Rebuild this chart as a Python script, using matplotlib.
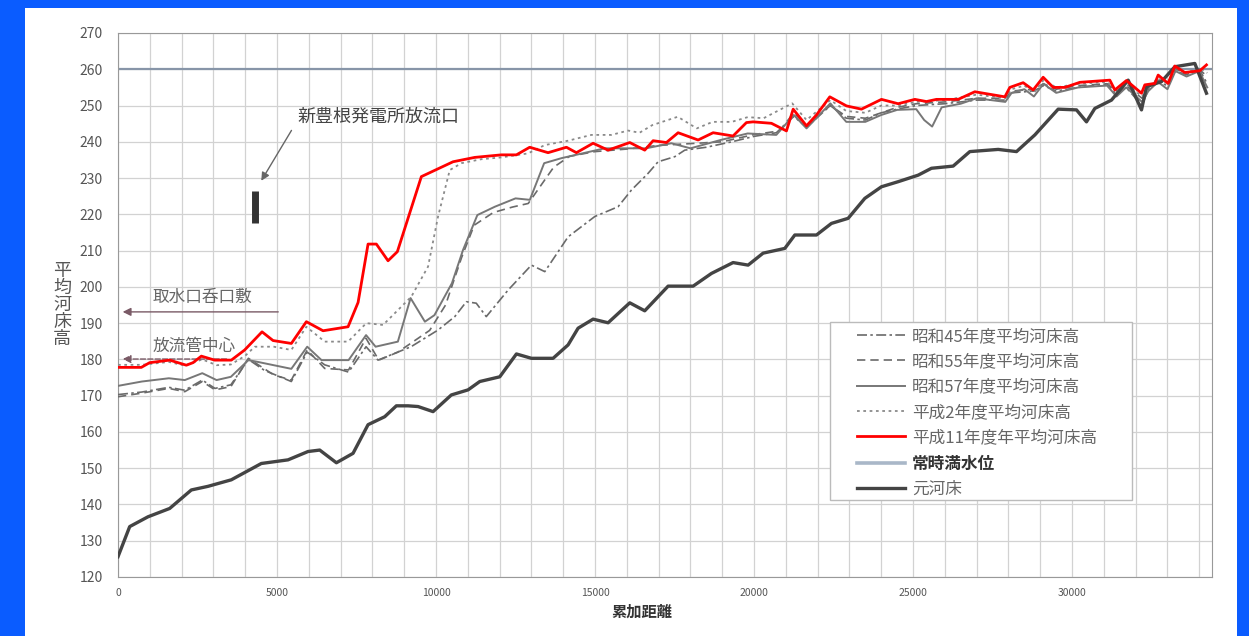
import numpy as np
import matplotlib
matplotlib.use("Agg")
import matplotlib.pyplot as plt
from matplotlib.patches import Rectangle
from matplotlib.lines import Line2D

plt.rcParams["font.family"] = ["Noto Sans CJK JP", "DejaVu Sans"]

# 平成11年度 (red)
h11_x = [0, 733, 995, 1625, 2149, 2359, 2621, 3040, 3563, 3983, 4529, 4875, 5451, 5923, 6447,
         7234, 7549, 7863, 8124, 8491, 8784, 9539, 10536, 11218, 12055, 12527, 12946, 13523,
         14100, 14414, 14939, 15411, 16092, 16563, 16826, 17245, 17612, 18241, 18713, 19340,
         19760, 19970, 20547, 21019, 21230, 21649, 21963, 22382, 22906, 23378, 24006, 24531,
         25056, 25420, 25735, 26418, 26942, 27886, 28043, 28462, 28777, 29091, 29406, 29773,
         30244, 31188, 31345, 31709, 32183, 32288, 32602, 32707, 33022, 33231, 33546, 34017, 34226]
h11_y = [177.8, 177.8, 179.1, 179.8, 178.4, 179.1, 180.9, 179.8, 179.8, 182.6, 187.6, 185.2, 184.4,
         190.4, 187.9, 189.0, 195.7, 211.8, 211.8, 207.2, 209.7, 230.4, 234.5, 235.7, 236.4, 236.4,
         238.5, 237.0, 238.5, 237.0, 239.6, 237.7, 239.8, 237.7, 240.3, 239.8, 242.5, 240.5, 242.5,
         241.6, 245.3, 245.5, 245.1, 243.0, 249.0, 244.4, 247.4, 252.4, 249.9, 249.0, 251.7, 250.5,
         251.7, 251.1, 251.7, 251.7, 253.8, 252.4, 255.0, 256.3, 254.3, 257.8, 255.0, 255.0, 256.4,
         257.0, 254.3, 256.9, 253.4, 255.7, 256.1, 258.4, 256.1, 260.9, 259.1, 259.6, 261.2]

# 平成2年度 (dotted)
h2_x = [0, 750, 1600, 2100, 2650, 3100, 3550, 4000, 4300, 4900, 5450, 5923, 6500, 7234, 7809,
        8334, 9224, 9750, 10064, 10432, 10797, 11426, 12055, 12895, 13420, 14153, 14886, 15515,
        16040, 16400, 16800, 17600, 18200, 18700, 19300, 19800, 20300, 21200, 21650, 22400,
        22900, 23500, 24000, 24500, 25100, 26000, 27000, 27900, 28100, 28500, 28800, 29100,
        29500, 30200, 31100, 31400, 31700, 32200, 32400, 32700, 33000, 33250, 33600, 34000, 34250]
h2_y = [178.5, 178.5, 179.3, 178.3, 180.0, 178.4, 178.6, 181.0, 183.5, 183.5, 182.6, 189.0, 184.9,
        184.9, 190.0, 189.5, 197.3, 205.6, 219.4, 232.2, 234.1, 235.2, 235.7, 236.8, 239.1, 240.3,
        241.9, 241.9, 243.1, 242.5, 244.6, 246.9, 243.7, 245.5, 245.5, 246.8, 246.5, 250.6, 246.0,
        251.5, 248.5, 248.0, 250.0, 250.0, 251.0, 251.5, 253.0, 252.0, 254.5, 255.5, 253.5, 257.0,
        255.0, 256.0, 256.5, 254.0, 256.0, 252.5, 255.0, 257.5, 256.0, 260.5, 259.0, 260.5, 259.0]

# 昭和57年度 (solid gray)
s57_x = [0, 750, 1600, 2100, 2650, 3100, 3550, 4100, 4400, 5450, 5950, 6400, 7250, 7800, 8100,
         8800, 9200, 9650, 9950, 10500, 10850, 11300, 11850, 12500, 12950, 13400, 13950, 14600,
         15300, 16000, 16600, 17400, 18000, 18950, 19800, 20700, 21250, 21650, 22400, 22900,
         23500, 24000, 24500, 25100, 25350, 25600, 25900, 26500, 27000, 27900, 28100, 28500,
         28800, 29100, 29500, 30200, 31100, 31400, 31700, 32200, 32400, 32700, 33000, 33250,
         33600, 34000, 34250]
s57_y = [172.7, 173.9, 174.8, 174.3, 176.2, 174.3, 175.2, 179.8, 179.3, 177.4, 183.5, 179.8, 179.8,
         186.7, 183.5, 184.9, 196.9, 190.4, 192.2, 201.0, 210.2, 219.8, 222.1, 224.4, 224.0, 234.1,
         235.5, 236.8, 238.2, 238.2, 238.2, 239.6, 238.2, 240.5, 242.3, 241.9, 247.4, 243.7, 250.6,
         245.5, 245.5, 247.4, 248.8, 249.0, 246.0, 244.2, 249.5, 250.5, 252.0, 251.0, 253.5, 254.5,
         252.5, 256.0, 253.5, 255.0, 255.5, 252.5, 255.0, 251.0, 254.0, 256.5, 254.5, 259.5, 258.0,
         259.5, 255.0]

# 昭和55年度 (dashed)
s55_x = [0, 750, 1600, 2100, 2650, 3050, 3550, 4100, 4900, 5450, 5950, 6500, 7250, 7800, 8200,
         8800, 9300, 9800, 10300, 10800, 11200, 11800, 12400, 12900, 13300, 13700, 14200, 15000,
         16000, 17000, 18000, 19000, 20000, 20800, 21250, 21650, 22400, 22900, 23500, 24000,
         24500, 25100, 26000, 27000, 27900, 28100, 28800, 29100, 29500, 30200, 31100, 31400,
         31700, 32200, 32400, 32700, 33000, 33250, 33600, 34000, 34250]
s55_y = [169.7, 170.7, 172.0, 171.1, 173.9, 171.6, 172.5, 180.3, 175.7, 174.3, 182.6, 177.5, 177.1,
         185.8, 179.8, 182.0, 185.0, 188.0, 195.0, 208.0, 217.0, 220.5, 222.0, 223.0, 228.0, 233.0,
         236.0, 237.3, 238.0, 239.0, 239.5, 240.0, 242.0, 243.0, 248.0, 244.5, 250.0, 247.0, 246.5,
         248.0, 249.5, 250.5, 251.0, 252.0, 252.0, 254.0, 254.5, 256.0, 254.5, 255.5, 256.0, 254.0,
         255.5, 252.0, 255.0, 257.0, 256.0, 260.0, 259.0, 260.0, 258.0]

# 昭和45年度 (dash-dot)
s45_x = [0, 750, 1600, 2100, 2650, 3050, 3550, 4100, 4600, 5450, 5950, 6500, 7250, 7800, 8177,
         9215, 10064, 10590, 10954, 11265, 11580, 12265, 12999, 13420, 14153, 14993, 15725, 16145,
         16668, 16983, 17508, 17822, 18500, 19300, 20000, 20700, 21250, 21650, 22400, 22900,
         23500, 24000, 24500, 25100, 26000, 27000, 27900, 28100, 28800, 29100, 29500, 30200,
         31100, 31400, 31700, 32200, 32400, 32700, 33000, 33250, 33600, 34000, 34250]
s45_y = [170.3, 171.0, 172.3, 171.5, 174.3, 172.0, 173.0, 180.0, 177.0, 173.9, 182.0, 178.5, 176.5,
         183.5, 179.8, 183.5, 188.1, 191.8, 195.9, 195.5, 191.8, 199.1, 206.0, 204.2, 213.8, 219.4,
         222.1, 226.7, 231.3, 234.5, 235.9, 237.7, 238.5, 240.0, 241.5, 242.5, 247.0, 244.0, 250.0,
         246.5, 246.0, 248.0, 249.0, 250.0, 250.5, 251.5, 251.5, 253.5, 254.0, 255.5, 254.0, 255.0,
         256.0, 253.0, 255.0, 250.0, 254.5, 256.5, 255.5, 259.5, 258.5, 260.0, 256.0]

# 元河床 (original river bed)
orig_x = [0, 368, 943, 1625, 2306, 2830, 3563, 4507, 5346, 5975, 6343, 6867, 7391, 7863, 8387,
          8753, 9120, 9435, 9907, 10482, 11008, 11375, 12004, 12528, 13000, 13681, 14153, 14467,
          14939, 15411, 16092, 16563, 17298, 18084, 18660, 19341, 19813, 20285, 20967, 21282,
          21963, 22434, 22959, 23483, 24006, 24531, 25160, 25578, 26261, 26785, 27676, 28253,
          28830, 29563, 30139, 30453, 30716, 31240, 31764, 32183, 32340, 32812, 33231, 33860, 34226]
orig_y = [125.6, 133.9, 136.6, 138.9, 144.0, 145.0, 146.8, 151.3, 152.3, 154.6, 155.0, 151.5, 154.1,
          162.0, 164.2, 167.2, 167.2, 167.0, 165.6, 170.2, 171.6, 173.9, 175.2, 181.5, 180.3, 180.3,
          184.0, 188.6, 191.1, 190.1, 195.6, 193.4, 200.2, 200.2, 203.7, 206.7, 206.0, 209.3, 210.6,
          214.3, 214.3, 217.5, 218.9, 224.4, 227.6, 229.0, 230.8, 232.7, 233.3, 237.3, 237.9, 237.3,
          241.9, 249.0, 248.8, 245.5, 249.2, 251.5, 257.0, 248.8, 255.2, 256.6, 260.7, 261.6, 253.4]

full_water_level = 260

legend_labels = ["昭和45年度平均河床高", "昭和55年度平均河床高", "昭和57年度平均河床高",
                 "平成2年度平均河床高", "平成11年度年平均河床高", "常時満水位", "元河床"]

fig = plt.figure(figsize=(12.49, 6.36), dpi=100)
fig.patch.set_facecolor("#0a5cff")
fig.patches.append(Rectangle((25 / 1249, 0), (1237 - 25) / 1249, 1 - 8 / 636,
                             transform=fig.transFigure, facecolor="white",
                             edgecolor="none", zorder=-10))

ax = fig.add_axes([118 / 1249, 1 - 577 / 636, (1212 - 118) / 1249, (577 - 33) / 636])
ax.set_zorder(2)
ax.set_facecolor("white")

ax.set_xlim(0, 34400)
ax.set_ylim(120, 270)
ax.set_xticks(np.arange(0, 30001, 5000))
ax.set_xticks(np.arange(0, 34001, 1000), minor=True)
ax.set_yticks(np.arange(120, 271, 10))
ax.grid(True, which="both", color="#d2d2d2", lw=0.9)
ax.set_axisbelow(True)
ax.tick_params(which="both", length=0, labelcolor="#555555")
ax.tick_params(axis="y", pad=11, labelsize=10)
ax.tick_params(axis="x", pad=8, labelsize=7.5)
for s in ax.spines.values():
    s.set_color("#999999")

gray = "#6a6a6a"
ax.axhline(full_water_level, color="#8795a8", lw=1.6, zorder=2)
l45, = ax.plot(s45_x, s45_y, color=gray, lw=1.2, ls=(0, (6, 2, 1.5, 2)), zorder=3)
l55, = ax.plot(s55_x, s55_y, color=gray, lw=1.2, ls=(0, (5, 3)), zorder=3)
l57, = ax.plot(s57_x, s57_y, color="#777777", lw=1.4, zorder=3)
lh2, = ax.plot(h2_x, h2_y, color="#8a8a8a", lw=1.3, ls=(0, (1.5, 2)), zorder=3)
lh11, = ax.plot(h11_x, h11_y, color="#ff0000", lw=2.0, zorder=5)
lorig, = ax.plot(orig_x, orig_y, color="#444444", lw=2.4, zorder=4)
lwl = Line2D([], [], color="#a9b7c8", lw=2.6)

# legend frame drawn separately so the horizontal padding can differ from the vertical
ax.add_patch(Rectangle((0.651, 0.1415), 0.276, 0.3275, transform=ax.transAxes,
                       facecolor="white", edgecolor="#bbbbbb", lw=1.0, zorder=6))
leg = ax.legend([l45, l55, l57, lh2, lh11, lwl, lorig], legend_labels,
                loc="upper left", bbox_to_anchor=(0.6755, 0.458), borderaxespad=0,
                borderpad=0, fontsize=12, labelspacing=0.5, handlelength=2.9,
                handletextpad=0.4, frameon=False)
leg.set_zorder(7)
for i, t in enumerate(leg.get_texts()):
    if i == 5:
        t.set_color("#333333")
        t.set_fontweight("bold")
    else:
        t.set_color("#666666")

# annotations
ax.annotate("", xy=(4460, 228.6), xytext=(5500, 243.8),
            arrowprops=dict(arrowstyle="-|>", color="#666666", lw=1.0, mutation_scale=12))
ax.plot([4309, 4309], [217.5, 226.5], color="#333333", lw=5, solid_capstyle="butt", zorder=6)
ax.text(5650, 246.8, "新豊根発電所放流口", fontsize=13, color="#444444", va="center")

ax.annotate("", xy=(60, 193.1), xytext=(5126, 193.1),
            arrowprops=dict(arrowstyle="-|>", color="#7a5a66", lw=1.0, mutation_scale=12))
ax.text(1100, 197.0, "取水口呑口敷", fontsize=12, color="#666666", va="center")

ax.annotate("", xy=(60, 180.1), xytext=(3500, 180.1),
            arrowprops=dict(arrowstyle="-|>", color="#7a5a66", lw=1.0, ls="--",
                            mutation_scale=12))
ax.text(1100, 183.7, "放流管中心", fontsize=12, color="#666666", va="center")

fig.text(62 / 1249, 1 - 305 / 636, "\n".join("平均河床高"), fontsize=13, color="#555555",
         ha="center", va="center", linespacing=0.94)
fig.text(642 / 1249, 1 - 612 / 636, "累加距離", fontsize=11, color="#333333",
         fontweight="bold", ha="center", va="center")

fig.savefig("out.png", dpi=100, facecolor=fig.get_facecolor())
